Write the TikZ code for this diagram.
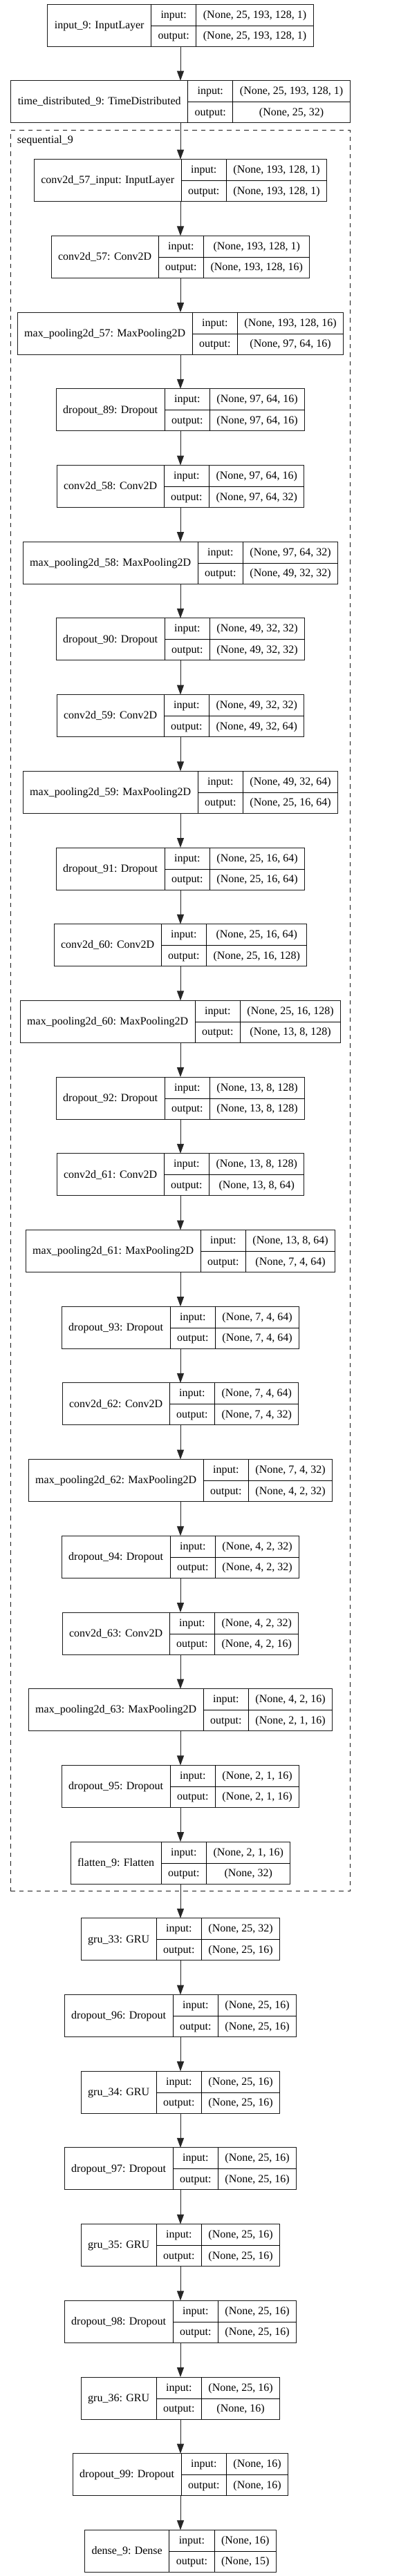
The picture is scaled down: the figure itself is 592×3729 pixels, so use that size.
\documentclass[tikz,border=0pt]{standalone}
\usepackage{fontspec}
\setmainfont{Liberation Serif}
\usetikzlibrary{arrows.meta, positioning, fit, calc}

% one keras layer: name | input:/output: | shapes
\newcommand{\rowstrut}{\rule[-10.5pt]{0pt}{30.5pt}}
\newcommand{\layerbox}[3]{%
  \setlength{\tabcolsep}{10pt}%
  \setlength{\arrayrulewidth}{1pt}%
  \begin{tabular}{c|c|c}
    \raisebox{-15.25pt}[0pt][0pt]{#1} & input:\rowstrut & #2\\ \cline{2-3}
    & output:\rowstrut & #3
  \end{tabular}}

\begin{document}
\begin{tikzpicture}[
    x=1pt, y=-1pt,
    node distance=49.7pt,
    every node/.style={font=\fontsize{16}{19}\selectfont},
    layer/.style={rectangle, draw=black!90, line width=1pt, fill=white,
                  inner sep=0pt, outer sep=0pt},
    cluster/.style={rectangle, draw=black!90, line width=1pt,
                    dash pattern=on 6.5pt off 6pt, inner sep=0pt},
    arrow/.style={-{Triangle[length=14pt, width=10pt]}, line width=1pt, black!85},
]

\useasboundingbox (0,0) rectangle (592,3729);
\fill[white] (0,0) rectangle (592,3729);

%% --- Outer model input ---
\node[layer] (in9) at (261,36.5)
    {\layerbox{input\_9: InputLayer}{(None, 25, 193, 128, 1)}{(None, 25, 193, 128, 1)}};
\node[layer, below=of in9] (td9)
    {\layerbox{time\_distributed\_9: TimeDistributed}{(None, 25, 193, 128, 1)}{(None, 25, 32)}};

%% --- sequential_9 (inside TimeDistributed) ---
\node[layer, below=53pt of td9] (c57in)
    {\layerbox{conv2d\_57\_input: InputLayer}{(None, 193, 128, 1)}{(None, 193, 128, 1)}};
\node[layer, below=of c57in] (c57)
    {\layerbox{conv2d\_57: Conv2D}{(None, 193, 128, 1)}{(None, 193, 128, 16)}};
\node[layer, below=of c57] (mp57)
    {\layerbox{max\_pooling2d\_57: MaxPooling2D}{(None, 193, 128, 16)}{(None, 97, 64, 16)}};
\node[layer, below=of mp57] (do89)
    {\layerbox{dropout\_89: Dropout}{(None, 97, 64, 16)}{(None, 97, 64, 16)}};

\node[layer, below=of do89] (c58)
    {\layerbox{conv2d\_58: Conv2D}{(None, 97, 64, 16)}{(None, 97, 64, 32)}};
\node[layer, below=of c58] (mp58)
    {\layerbox{max\_pooling2d\_58: MaxPooling2D}{(None, 97, 64, 32)}{(None, 49, 32, 32)}};
\node[layer, below=of mp58] (do90)
    {\layerbox{dropout\_90: Dropout}{(None, 49, 32, 32)}{(None, 49, 32, 32)}};

\node[layer, below=of do90] (c59)
    {\layerbox{conv2d\_59: Conv2D}{(None, 49, 32, 32)}{(None, 49, 32, 64)}};
\node[layer, below=of c59] (mp59)
    {\layerbox{max\_pooling2d\_59: MaxPooling2D}{(None, 49, 32, 64)}{(None, 25, 16, 64)}};
\node[layer, below=of mp59] (do91)
    {\layerbox{dropout\_91: Dropout}{(None, 25, 16, 64)}{(None, 25, 16, 64)}};

\node[layer, below=of do91] (c60)
    {\layerbox{conv2d\_60: Conv2D}{(None, 25, 16, 64)}{(None, 25, 16, 128)}};
\node[layer, below=of c60] (mp60)
    {\layerbox{max\_pooling2d\_60: MaxPooling2D}{(None, 25, 16, 128)}{(None, 13, 8, 128)}};
\node[layer, below=of mp60] (do92)
    {\layerbox{dropout\_92: Dropout}{(None, 13, 8, 128)}{(None, 13, 8, 128)}};

\node[layer, below=of do92] (c61)
    {\layerbox{conv2d\_61: Conv2D}{(None, 13, 8, 128)}{(None, 13, 8, 64)}};
\node[layer, below=of c61] (mp61)
    {\layerbox{max\_pooling2d\_61: MaxPooling2D}{(None, 13, 8, 64)}{(None, 7, 4, 64)}};
\node[layer, below=of mp61] (do93)
    {\layerbox{dropout\_93: Dropout}{(None, 7, 4, 64)}{(None, 7, 4, 64)}};

\node[layer, below=of do93] (c62)
    {\layerbox{conv2d\_62: Conv2D}{(None, 7, 4, 64)}{(None, 7, 4, 32)}};
\node[layer, below=of c62] (mp62)
    {\layerbox{max\_pooling2d\_62: MaxPooling2D}{(None, 7, 4, 32)}{(None, 4, 2, 32)}};
\node[layer, below=of mp62] (do94)
    {\layerbox{dropout\_94: Dropout}{(None, 4, 2, 32)}{(None, 4, 2, 32)}};

\node[layer, below=of do94] (c63)
    {\layerbox{conv2d\_63: Conv2D}{(None, 4, 2, 32)}{(None, 4, 2, 16)}};
\node[layer, below=of c63] (mp63)
    {\layerbox{max\_pooling2d\_63: MaxPooling2D}{(None, 4, 2, 16)}{(None, 2, 1, 16)}};
\node[layer, below=of mp63] (do95)
    {\layerbox{dropout\_95: Dropout}{(None, 2, 1, 16)}{(None, 2, 1, 16)}};
\node[layer, below=of do95] (flat9)
    {\layerbox{flatten\_9: Flatten}{(None, 2, 1, 16)}{(None, 32)}};

%% --- Recurrent head ---
\node[layer, below=of flat9] (gru33)
    {\layerbox{gru\_33: GRU}{(None, 25, 32)}{(None, 25, 16)}};
\node[layer, below=of gru33] (do96)
    {\layerbox{dropout\_96: Dropout}{(None, 25, 16)}{(None, 25, 16)}};
\node[layer, below=of do96] (gru34)
    {\layerbox{gru\_34: GRU}{(None, 25, 16)}{(None, 25, 16)}};
\node[layer, below=of gru34] (do97)
    {\layerbox{dropout\_97: Dropout}{(None, 25, 16)}{(None, 25, 16)}};
\node[layer, below=of do97] (gru35)
    {\layerbox{gru\_35: GRU}{(None, 25, 16)}{(None, 25, 16)}};
\node[layer, below=of gru35] (do98)
    {\layerbox{dropout\_98: Dropout}{(None, 25, 16)}{(None, 25, 16)}};
\node[layer, below=of do98] (gru36)
    {\layerbox{gru\_36: GRU}{(None, 25, 16)}{(None, 16)}};
\node[layer, below=of gru36] (do99)
    {\layerbox{dropout\_99: Dropout}{(None, 16)}{(None, 16)}};
\node[layer, below=of do99] (dense9)
    {\layerbox{dense\_9: Dense}{(None, 16)}{(None, 15)}};

%% --- Dashed cluster round sequential_9 ---
\coordinate (seqtl) at ($(mp57.west |- c57in.north)+(-10pt,42pt)$);
\coordinate (seqbr) at ($(mp57.east |- flat9.south)+(10pt,-10.6pt)$);
\node[cluster, fit=(seqtl) (seqbr)] (seq9) {};
\node[anchor=base west, inner sep=0pt] (seqlbl)
    at ($(seq9.north west)+(10pt,-19pt)$) {sequential\_9};

%% --- Arrows: outer input ---
\draw[arrow] (in9) -- (td9);
\draw[arrow] (td9) -- (c57in);

%% --- Arrows: conv stack ---
\draw[arrow] (c57in) -- (c57);
\draw[arrow] (c57) -- (mp57);
\draw[arrow] (mp57) -- (do89);
\draw[arrow] (do89) -- (c58);
\draw[arrow] (c58) -- (mp58);
\draw[arrow] (mp58) -- (do90);
\draw[arrow] (do90) -- (c59);
\draw[arrow] (c59) -- (mp59);
\draw[arrow] (mp59) -- (do91);
\draw[arrow] (do91) -- (c60);
\draw[arrow] (c60) -- (mp60);
\draw[arrow] (mp60) -- (do92);
\draw[arrow] (do92) -- (c61);
\draw[arrow] (c61) -- (mp61);
\draw[arrow] (mp61) -- (do93);
\draw[arrow] (do93) -- (c62);
\draw[arrow] (c62) -- (mp62);
\draw[arrow] (mp62) -- (do94);
\draw[arrow] (do94) -- (c63);
\draw[arrow] (c63) -- (mp63);
\draw[arrow] (mp63) -- (do95);
\draw[arrow] (do95) -- (flat9);

%% --- Arrows: recurrent head ---
\draw[arrow] (flat9) -- (gru33);
\draw[arrow] (gru33) -- (do96);
\draw[arrow] (do96) -- (gru34);
\draw[arrow] (gru34) -- (do97);
\draw[arrow] (do97) -- (gru35);
\draw[arrow] (gru35) -- (do98);
\draw[arrow] (do98) -- (gru36);
\draw[arrow] (gru36) -- (do99);
\draw[arrow] (do99) -- (dense9);

\end{tikzpicture}
\end{document}
